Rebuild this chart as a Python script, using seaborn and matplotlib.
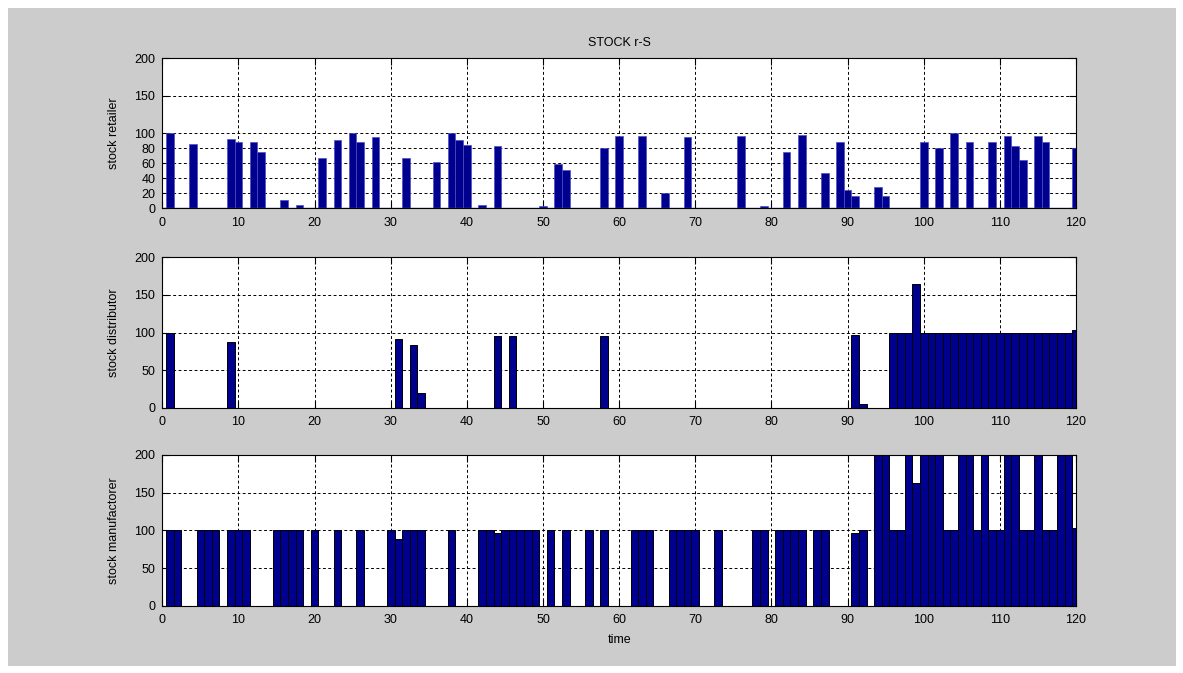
import numpy as np
import pandas as pd
import matplotlib
matplotlib.use("Agg")
import matplotlib.pyplot as plt
from matplotlib.patches import Rectangle
import seaborn as sns

# Simulation periods
time = np.arange(1, 121)

stock_retailer = [
    100, 0, 0, 86, 0, 0, 0, 0, 93, 88,
    0, 88, 75, 0, 0, 11, 0, 5, 0, 0,
    67, 0, 91, 0, 100, 88, 0, 95, 0, 0,
    0, 67, 0, 0, 0, 62, 0, 100, 91, 84,
    0, 5, 0, 83, 0, 0, 0, 0, 0, 3,
    0, 59, 51, 0, 0, 0, 0, 80, 0, 96,
    0, 0, 96, 0, 0, 21, 0, 0, 95, 0,
    0, 0, 0, 0, 0, 96, 0, 0, 3, 0,
    0, 75, 0, 98, 0, 0, 47, 0, 88, 24,
    16, 0, 0, 29, 16, 0, 0, 0, 0, 88,
    0, 81, 0, 100, 0, 88, 0, 0, 89, 0,
    96, 83, 65, 0, 96, 88, 0, 0, 0, 80,
]

stock_distributor = [
    100, 0, 0, 0, 0, 0, 0, 0, 88, 0,
    0, 0, 0, 0, 0, 0, 0, 0, 0, 0,
    0, 0, 0, 0, 0, 0, 0, 0, 0, 0,
    91, 0, 83, 20, 0, 0, 0, 0, 0, 0,
    0, 0, 0, 96, 0, 96, 0, 0, 0, 0,
    0, 0, 0, 0, 0, 0, 0, 96, 0, 0,
    0, 0, 0, 0, 0, 0, 0, 0, 0, 0,
    0, 0, 0, 0, 0, 0, 0, 0, 0, 0,
    0, 0, 0, 0, 0, 0, 0, 0, 0, 0,
    97, 5, 0, 0, 0, 100, 100, 100, 165, 100,
    100, 100, 100, 100, 100, 100, 100, 100, 100, 100,
    100, 100, 100, 100, 100, 100, 100, 100, 100, 103,
]

stock_manufacturer = [
    100, 100, 0, 0, 100, 100, 100, 0, 100, 100,
    100, 0, 0, 0, 100, 100, 100, 100, 0, 100,
    0, 0, 100, 0, 0, 100, 0, 0, 0, 100,
    89, 100, 100, 100, 0, 0, 0, 100, 0, 0,
    0, 100, 100, 96, 100, 100, 100, 100, 100, 0,
    100, 0, 100, 0, 0, 100, 0, 100, 0, 0,
    0, 100, 100, 100, 0, 0, 100, 100, 100, 100,
    0, 0, 100, 0, 0, 0, 0, 100, 100, 0,
    100, 100, 100, 100, 0, 100, 100, 0, 0, 0,
    97, 100, 0, 200, 200, 100, 100, 200, 163, 200,
    200, 200, 100, 100, 200, 200, 100, 200, 100, 100,
    200, 200, 100, 100, 200, 100, 100, 200, 200, 103,
]

panel_labels = ["stock retailer", "stock distributor", "stock manufactorer"]
title = "STOCK r-S"
xlabel = "time"
x_ticks = list(range(0, 121, 10))
y_ticks_retailer = [0, 20, 40, 60, 80, 100, 150, 200]
y_ticks_other = [0, 50, 100, 150, 200]

plt.rcParams["font.family"] = ["Liberation Sans", "DejaVu Sans"]
plt.rcParams["font.size"] = 9

W, H = 1183, 673
fig = plt.figure(figsize=(W / 100, H / 100), dpi=100)
fig.patch.set_facecolor("white")
fig.patches.append(Rectangle((8 / W, 1 - 666 / H), (1176 - 8) / W, (666 - 8) / H,
                             transform=fig.transFigure, facecolor="#cccccc",
                             edgecolor="none", zorder=-10))

left = 162.3 / W
width = (1076 - 162.3) / W
panels = [(58.3, 208.3), (257.3, 407.7), (455.0, 605.7)]

bar_color = "#00008f"
series = [stock_retailer, stock_distributor, stock_manufacturer]
edges = [("#4d4dc4", 0.5), ("black", 0.7), ("black", 0.7)]

axes = []
for k, (top, bottom) in enumerate(panels):
    ax = fig.add_axes([left, 1 - bottom / H, width, (bottom - top) / H])
    ax.set_facecolor("white")
    df = pd.DataFrame({"time": time, "stock": series[k]})
    sns.barplot(data=df, x="time", y="stock", native_scale=True, width=1.0,
                color=bar_color, saturation=1, errorbar=None,
                edgecolor=edges[k][0], linewidth=edges[k][1], ax=ax)
    if k == 0:
        ax.axhline(0, color="#4d4dc4", lw=1.0, zorder=3)
    ax.set_xlim(0, 120)
    ax.set_ylim(0, 200)
    ax.set_xticks(x_ticks)
    ax.set_yticks(y_ticks_retailer if k == 0 else y_ticks_other)
    ax.grid(True, color="black", linestyle=(0, (3, 2.5)), linewidth=0.7)
    ax.set_axisbelow(True)
    ax.tick_params(direction="in", top=True, right=True, length=5, width=0.8,
                   labelsize=9, colors="black")
    ax.tick_params(axis="x", pad=6)
    ax.tick_params(axis="y", pad=5)
    for s in ax.spines.values():
        s.set_color("black")
        s.set_linewidth(0.8)
    ax.set_xlabel("")
    ax.set_ylabel(panel_labels[k], fontsize=9)
    ax.yaxis.set_label_coords(-0.046, 0.5)
    axes.append(ax)

axes[0].set_title(title, fontsize=9, pad=9)
axes[2].set_xlabel(xlabel, fontsize=9)
axes[2].xaxis.set_label_coords(0.5, -0.185)

fig.savefig("out.png", dpi=100, facecolor=fig.get_facecolor())
